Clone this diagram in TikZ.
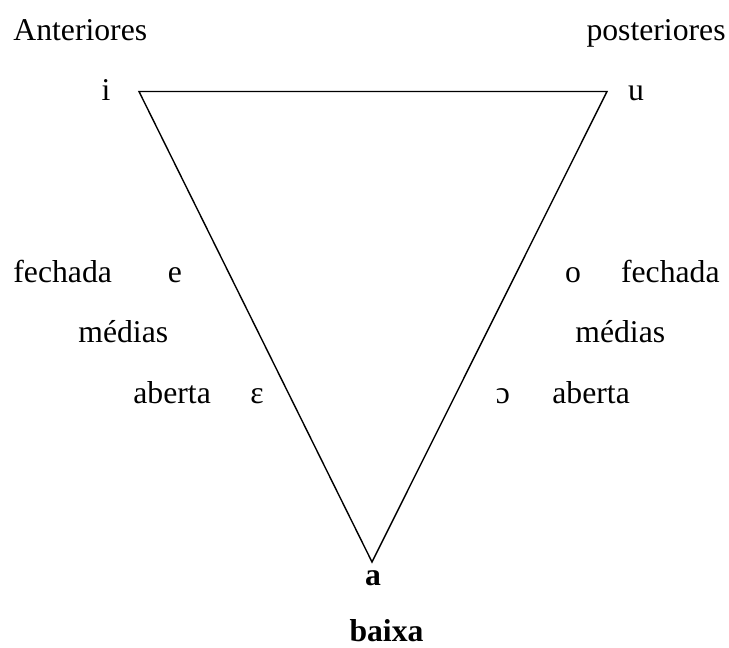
\documentclass[tikz,border=0pt]{standalone}
\usepackage{fontspec}
\setmainfont{Liberation Serif}
\begin{document}
\begin{tikzpicture}[x=0.5pt,y=-0.5pt,
  lbl/.style={inner sep=0pt, font=\fontsize{15.85}{19}\selectfont},
  blbl/.style={inner sep=0pt, font=\fontsize{15.85}{19}\selectfont\bfseries},
  tri/.style={draw=black, line width=0.7pt, line join=miter}]
\useasboundingbox (0,0) rectangle (729,648);
% headings
\node[lbl, anchor=base west] (ant) at (13,40.7) {Anteriores};
\node[lbl, anchor=base east] (post) at (726,40.7) {posteriores};
% vertices
\coordinate (vi) at (139,91.5);
\coordinate (vu) at (607,91.5);
\coordinate (va) at (372,562);
\draw[tri] (vi) -- (vu) -- (va) -- cycle;
\node[lbl, anchor=base] (i) at (106,100) {i};
\node[lbl, anchor=base] (u) at (636,100) {u};
% left side
\node[lbl, anchor=base west] (fl) at (13,282) {fechada};
\node[lbl, anchor=base] (e) at (175,282) {e};
\node[lbl, anchor=base west] (ml) at (78,342) {médias};
\node[lbl, anchor=base west] (al) at (133,403) {aberta};
\node[lbl, anchor=base] (eps) at (257,403) {ε};
% right side
\node[lbl, anchor=base] (o) at (573,282) {o};
\node[lbl, anchor=base east] (fr) at (720,282) {fechada};
\node[lbl, anchor=base west] (mr) at (575,342) {médias};
\node[lbl, anchor=base] (oo) at (503,403) {ɔ};
\node[lbl, anchor=base west] (ar) at (552,403) {aberta};
% bottom
\node[blbl, anchor=base] (a) at (373,585) {a};
\node[blbl, anchor=base] (baixa) at (386.5,641) {baixa};
\end{tikzpicture}
\end{document}
